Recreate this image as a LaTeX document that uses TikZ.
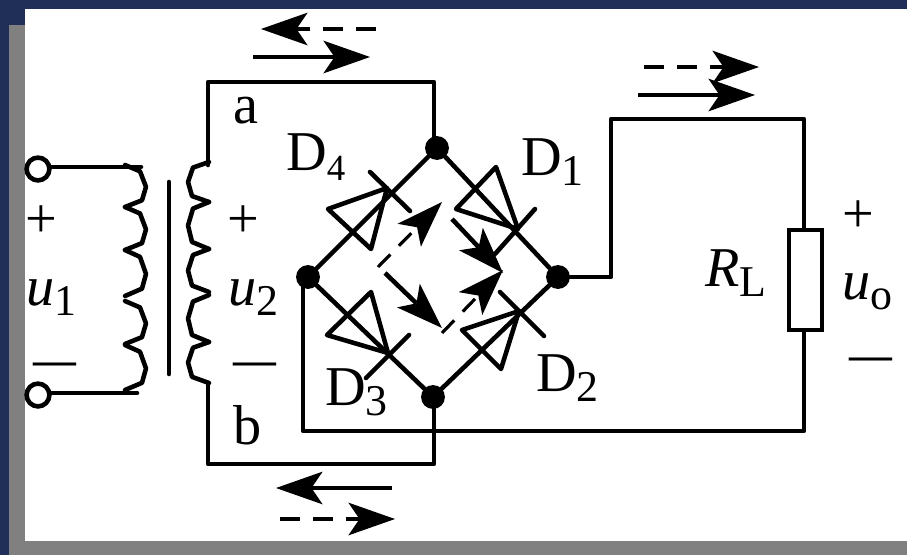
\documentclass[tikz,border=0pt]{standalone}
\usepackage{fontspec}
\setmainfont{Liberation Serif}
\usetikzlibrary{arrows.meta}

\definecolor{mynavy}{RGB}{31,47,87}
\definecolor{mygray}{RGB}{128,128,128}

\newcommand{\mysub}[2][25pt]{\raisebox{-6.2pt}{\fontsize{#1}{#1}\selectfont #2}}

\begin{document}
\begin{tikzpicture}[%
        x=0.02cm, y=-0.02cm,
        mywire/.style={line width=2.6pt, line cap=round, line join=round},
        mypoint/.style={shape=circle, inner sep=0pt, minimum size=13.6pt, fill=black},
        myterm/.style={shape=circle, draw, fill=white, inner sep=0pt, line width=2.6pt, minimum size=13pt},
        mylabel/.style={anchor=base west, inner sep=0pt, font=\fontsize{32pt}{32pt}\selectfont},
        mysign/.style={inner sep=0pt, font=\fontsize{32pt}{32pt}\selectfont},
        mydash/.style={inner sep=0pt, font=\fontsize{24.4pt}{24.4pt}\bfseries\selectfont},
        myhead/.style={-{Stealth[length=26.6pt, width=18.7pt, inset=6.4pt, line width=0pt]}},
        myflow/.style={myhead, line width=2.6pt},
        myback/.style={myhead, line width=2.8pt, dash pattern=on 11.3pt off 7.4pt},
        myin/.style={myhead, line width=1.8pt, dash pattern=on 10pt off 7pt}
    ]
        \useasboundingbox (0,0) rectangle (907,555);
        \fill [mynavy] (0,0) rectangle (907,555);
        \fill [mygray] (9,25) rectangle (907,555);
        \fill [white] (25,9) rectangle (907,541);

        % bridge
        \node [mypoint] (top) at (437,148) {};
        \node [mypoint] (right) at (558,277) {};
        \node [mypoint] (bottom) at (433,397) {};
        \node [mypoint] (left) at (308,277) {};
        \draw [mywire] (top) -- (right) -- (bottom) -- (left) -- (top);

        \foreach \a/\b/\c/\d/\e in
            {{496,167}/{456,209}/{518,229}/{535,209}/{495,254},
             {328,209}/{371,249}/{387,188}/{370,172}/{410,211},
             {371,292}/{327,335}/{388,353}/{409,335}/{366,378},
             {462,330}/{501,369}/{519,311}/{500,292}/{544,336}}
        {
            \draw [mywire] (\a) -- (\c) -- (\b) -- cycle;
            \draw [mywire] (\d) -- (\e);
        }

        % transformer
        \node [myterm] (in1) at (38,169) {};
        \node [myterm] (in2) at (38,395) {};
        \coordinate (p1) at (141,167);
        \coordinate (p2) at (137,393);
        \draw [mywire] (in1.east |- p1) -- (p1);
        \draw [mywire] (in2.east |- p2) -- (p2);

        \foreach \ya/\yb in {165/207,207/250,250/296,301/344,345/390}
            \draw [mywire] (125,\ya) -- (140,{\ya+0.15*(\yb-\ya)})
                -- (146,{\ya+0.52*(\yb-\ya)}) -- (142,{\ya+0.84*(\yb-\ya)}) -- (125,\yb);
        \foreach \ya/\yb in {162/202,202/249,249/292,295/342,342/383}
            \draw [mywire] (209,\ya) -- (193,{\ya+0.14*(\yb-\ya)})
                -- (188,{\ya+0.5*(\yb-\ya)}) -- (192,{\ya+0.85*(\yb-\ya)}) -- (209,\yb);
        \coordinate (core1) at (169,182);
        \coordinate (core2) at (169,374);
        \draw [mywire] (core1) -- (core2);

        % secondary to the bridge
        \coordinate (s1) at (208,165);
        \coordinate (s2) at (208,82);
        \coordinate (s3) at (434,82);
        \coordinate (s4) at (208,385);
        \coordinate (s5) at (208,464);
        \coordinate (s6) at (434,464);
        \draw [mywire] (s1) -- (s2) -- (s3) -- (s3 |- top);
        \draw [mywire] (s4) -- (s5) -- (s6) -- (s6 |- bottom);

        % load
        \node [draw, line width=2.6pt, inner sep=0pt, minimum width=18.7pt, minimum height=56.7pt] (RL) at (805.5,280) {};
        \coordinate (l1) at (611,119);
        \coordinate (l2) at (804,119);
        \coordinate (l3) at (303,431);
        \coordinate (l4) at (804,431);
        \draw [mywire] (right) -- (l1 |- right) -- (l1) -- (l2) -- (l2 |- RL.north);
        \draw [mywire] (left -| l3) -- (l3) -- (l4) -- (l4 |- RL.south);

        % current arrows
        \foreach \s/\t/\k in
            {{376,29}/{261,29}/myback, {253,57}/{370,57}/myflow,
             {644,67}/{759,67}/myback, {638,95}/{755,95}/myflow,
             {392,488}/{276,488}/myflow, {280,519}/{395,519}/myback,
             {452,219}/{503,273}/myflow, {385,273}/{442,328}/myflow,
             {378,267}/{442,202}/myin, {442,333}/{503,270}/myin}
            \draw [\k] (\s) -- (\t);

        % labels
        \node [mylabel] (la) at (233,123) {a};
        \node [mylabel] (lb) at (233,444) {b};
        \node [mylabel] (D4) at (286,170) {D\mysub[21pt]{4}};
        \node [mylabel] (D1) at (521,175) {D\mysub{1}};
        \node [mylabel] (D3) at (325,405) {D\mysub{3}};
        \node [mylabel] (D2) at (536,391) {D\mysub{2}};
        \node [mylabel] (u1) at (26,305) {\textit{u}\mysub{1}};
        \node [mylabel] (u2) at (228,305) {\textit{u}\mysub{2}};
        \node [mylabel] (RLa) at (705,286) {\textit{R}\mysub{L}};
        \node [mylabel] (uo) at (842,299) {\textit{u}\mysub{o}};
        \node [mysign] (p1s) at (41,222) {+};
        \node [mysign] (p2s) at (243,222) {+};
        \node [mysign] (p3s) at (858,217) {+};
        \node [mydash] (m1s) at (55,369) {—};
        \node [mydash] (m2s) at (255,369) {—};
        \node [mydash] (m3s) at (871,364) {—};
    \end{tikzpicture}
\end{document}
